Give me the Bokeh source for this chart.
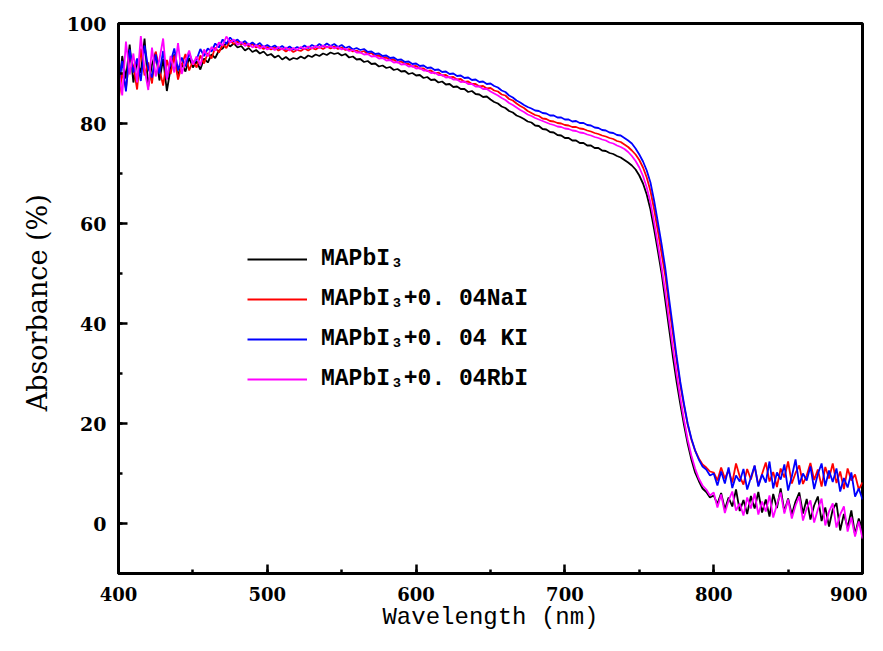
import numpy as np
from bokeh.plotting import figure
from bokeh.models import Range1d, SingleIntervalTicker, Legend, LegendItem
from bokeh.embed import file_html
from bokeh.resources import INLINE

# Wavelength sampling (nm)
wavelength = np.arange(400.0, 900.0 + 0.01, 2.5)

series_labels = ["MAPbI\u2083", "MAPbI\u2083+0. 04NaI", "MAPbI\u2083+0. 04 KI", "MAPbI\u2083+0. 04RbI"]
series_colors = ["#000000", "#ff0000", "#0000ff", "#ff00ff"]

# Absorbance (%), 400..900 nm every 2.5 nm
abs_mapbi3 = [
    86.0, 93.5, 89.0, 95.8, 88.2, 92.6, 90.1, 97.0, 87.4, 91.8, 94.2, 88.6, 92.9, 86.5, 91.0, 93.8, 89.5, 92.0, 90.4, 93.1, 91.2,
    92.4, 90.8, 93.0, 92.2, 93.8, 93.1, 94.6, 95.0, 96.2, 95.4, 96.0, 95.2, 95.5, 94.6, 95.1, 94.3, 94.7, 94.0, 94.4, 93.6,
    93.9, 93.2, 93.6, 92.8, 93.3, 92.7, 93.1, 92.9, 93.4, 93.0, 93.6, 93.3, 93.8, 93.5, 94.0, 93.7, 94.2, 93.9, 94.1, 93.6,
    93.9, 93.2, 93.4, 92.8,
    92.9, 92.3, 92.5, 91.9, 92.0, 91.4, 91.6, 91.1, 91.3, 90.7, 90.9, 90.4, 90.5, 89.9, 90.1, 89.6, 89.7, 89.1, 89.3, 88.7,
    88.8, 88.2, 88.4, 87.8, 87.9, 87.3, 87.4, 86.9, 86.9, 86.3, 86.5, 85.9, 85.8, 85.3, 85.4, 84.8,
    84.3, 84.0, 83.4, 83.1, 82.5, 82.2, 81.6, 81.3, 80.9, 80.4, 80.2, 79.6, 79.5, 78.9, 78.8, 78.3, 78.2, 77.7, 77.6, 77.1,
    77.1, 76.6, 76.6, 76.1, 76.1, 75.6, 75.6, 75.1, 75.1, 74.6, 74.5, 74.1, 73.9, 73.5, 73.2, 72.7,
    72.2, 71.6, 70.8, 69.6, 68.0, 65.8, 62.8, 58.8, 54.5, 50.0, 44.5, 39.0, 33.5, 28.5, 24.0, 19.8, 16.0, 12.8, 10.2, 8.5,
    7.0, 6.3, 5.2, 5.6,
    3.9, 6.1, 2.8, 5.2, 3.4, 6.8, 2.5, 4.7, 1.9, 5.5, 3.0, 6.3, 2.2, 4.8, 1.4, 5.9, 3.1, 7.0, 2.4, 5.0,
    1.8, 4.4, 6.2, 2.0, 4.9, 0.8, 3.6, 5.4, 0.5, 3.2, -0.6, 2.8, 4.1, -1.4, 1.9, -0.8, 2.6, -2.2, 1.0, -1.2,
]

abs_nai = [
    84.5, 90.2, 87.0, 93.4, 91.5, 86.8, 95.0, 89.6, 92.2, 88.0, 94.4, 90.8, 87.6, 92.7, 89.9, 93.6, 88.8, 91.7, 93.9, 90.6, 92.5,
    91.2, 93.6, 92.0, 94.1, 93.0, 95.2, 94.2, 95.8, 95.1, 96.6, 95.9, 96.4, 95.8, 96.1, 95.4, 95.9, 95.2, 95.6, 94.9, 95.3,
    94.8, 95.2, 94.6, 95.0, 94.4, 94.9, 94.3, 94.7, 94.5, 95.0, 94.6, 95.1, 94.8, 95.3, 94.9, 95.4, 95.0, 95.4, 94.9, 95.2,
    94.7, 94.9, 94.4, 94.6,
    94.2, 94.5, 93.9, 94.1, 93.5, 93.6, 93.1, 93.2, 92.7, 92.8, 92.2, 92.4, 91.9, 91.9, 91.4, 91.5, 91.0, 91.0, 90.5, 90.6,
    90.0, 90.2, 89.6, 89.7, 89.2, 89.3, 88.8, 88.9, 88.3, 88.4, 87.9, 87.9, 87.4, 87.5, 87.0, 87.1,
    86.6, 86.4, 85.8, 85.6, 84.9, 84.6, 84.0, 83.5, 83.1, 82.5, 82.1, 81.7, 81.5, 81.0, 80.9, 80.5, 80.4, 80.1, 80.0, 79.7,
    79.6, 79.3, 79.3, 79.0, 78.9, 78.6, 78.4, 78.1, 77.9, 77.6, 77.4, 77.1, 76.9, 76.5, 76.3, 75.8,
    75.3, 74.6, 73.8, 72.7, 71.2, 69.2, 66.5, 62.8, 58.5, 54.0, 49.5, 43.5, 38.2, 32.8, 27.8, 23.6, 19.8, 16.8, 14.6, 13.0,
    11.8, 11.2, 10.4, 10.2,
    8.6, 11.2, 9.0, 10.6, 8.2, 12.0, 9.4, 7.8, 10.9, 8.8, 11.5, 7.6, 9.9, 12.2, 8.4, 10.3, 7.3, 11.0, 9.2, 12.4,
    8.0, 10.1, 11.6, 7.9, 9.6, 12.1, 8.7, 10.8, 7.4, 11.3, 9.0, 12.0, 8.1, 10.4, 6.9, 11.0, 8.6, 9.8, 6.8, 8.2,
]

abs_ki = [
    88.0, 92.5, 86.4, 94.8, 90.2, 93.0, 88.5, 95.6, 91.0, 89.2, 93.8, 90.0, 94.5, 88.9, 92.3, 95.0, 90.6, 93.2, 91.4, 94.1, 92.0,
    92.8, 94.9, 93.5, 95.0, 94.4, 96.0, 95.2, 96.8, 95.9, 97.2, 96.4, 96.8, 96.0, 96.5, 95.7, 96.2, 95.6, 96.1, 95.3, 95.7,
    95.2, 95.6, 95.0, 95.5, 94.9, 95.4, 94.8, 95.3, 95.0, 95.6, 95.1, 95.7, 95.3, 95.9, 95.4, 96.0, 95.5, 95.9, 95.3, 95.7,
    95.1, 95.4, 94.8, 95.1,
    94.7, 94.9, 94.3, 94.4, 93.9, 94.0, 93.5, 93.6, 93.1, 93.2, 92.7, 92.8, 92.3, 92.4, 91.9, 92.0, 91.5, 91.6, 91.1, 91.2,
    90.7, 90.8, 90.3, 90.4, 89.9, 90.0, 89.5, 89.6, 89.1, 89.2, 88.7, 88.8, 88.3, 88.4, 87.9, 88.0,
    87.5, 87.2, 86.6, 86.3, 85.6, 85.2, 84.6, 84.2, 83.7, 83.3, 83.0, 82.6, 82.5, 82.1, 82.0, 81.6, 81.6, 81.2, 81.2, 80.8,
    80.8, 80.4, 80.5, 80.1, 80.1, 79.7, 79.6, 79.2, 79.1, 78.7, 78.6, 78.2, 78.1, 77.7, 77.6, 77.1,
    76.6, 76.0, 75.0, 73.8, 72.4, 70.6, 68.2, 64.5, 60.2, 55.8, 51.0, 45.0, 39.4, 33.6, 28.4, 24.0, 20.0, 17.0, 14.6, 12.8,
    11.4, 10.8, 9.6, 10.0,
    7.6, 10.4, 8.0, 11.2, 7.1, 9.6, 8.4, 10.9, 6.8, 9.2, 11.6, 7.4, 9.8, 8.2, 12.4, 7.0, 10.2, 8.8, 11.8, 6.6,
    9.4, 12.8, 7.8, 10.0, 8.6, 11.4, 6.9, 9.9, 12.0, 7.5, 10.6, 8.3, 11.0, 6.4, 9.1, 7.2, 10.2, 5.4, 7.0, 4.8,
]

abs_rbi = [
    91.0, 85.6, 96.4, 89.8, 94.0, 88.2, 97.5, 90.9, 86.7, 95.2, 89.4, 92.8, 97.0, 88.8, 93.5, 90.2, 96.1, 89.9, 92.6, 94.6, 91.8,
    93.4, 91.6, 94.8, 93.4, 95.3, 94.6, 96.2, 95.6, 97.4, 96.2, 96.8, 95.7, 96.3, 95.5, 96.0, 95.2, 95.7, 95.0, 95.5, 94.8,
    95.2, 94.7, 95.3, 94.8, 95.2, 94.6, 95.1, 94.7, 95.3, 94.9, 95.4, 95.0, 95.5, 95.1, 95.6, 95.2, 95.5, 95.0, 95.3, 94.8,
    95.0, 94.5, 94.7, 94.2,
    94.2, 93.8, 93.9, 93.4, 93.5, 93.0, 93.1, 92.6, 92.7, 92.2, 92.3, 91.8, 91.9, 91.4, 91.5, 91.0, 91.1, 90.6, 90.6, 90.1,
    90.2, 89.7, 89.7, 89.2, 89.3, 88.8, 88.8, 88.3, 88.4, 87.9, 87.9, 87.4, 87.4, 86.9, 86.9, 86.4,
    86.0, 85.6, 85.1, 84.7, 84.1, 83.7, 83.2, 82.7, 82.3, 81.8, 81.5, 81.1, 80.8, 80.5, 80.2, 79.9, 79.7, 79.4, 79.3, 79.0,
    78.9, 78.6, 78.5, 78.2, 78.1, 77.8, 77.6, 77.3, 77.1, 76.8, 76.6, 76.2, 76.0, 75.6, 75.3, 74.9,
    74.3, 73.5, 72.5, 71.2, 69.5, 67.2, 64.2, 60.2, 55.8, 51.2, 46.2, 40.6, 35.2, 30.0, 25.2, 20.8, 16.8, 13.6, 11.0, 9.0,
    7.6, 6.8, 5.6, 6.2,
    3.2, 5.8, 2.1, 4.6, 6.4, 2.6, 4.0, 1.6, 5.2, 3.0, 6.0, 1.8, 4.4, 2.4, 5.6, 1.2, 3.8, 6.2, 2.0, 4.8,
    1.0, 3.6, 5.4, 0.6, 3.0, 4.6, 0.2, 2.8, 5.0, -0.4, 2.4, 4.0, -0.8, 1.8, 3.4, -1.6, 1.2, -2.6, 0.4, -3.0,
]

x_ticks_interval = 100
y_ticks_interval = 20

p = figure(width=867, height=635, output_backend="svg", toolbar_location=None,
           x_range=Range1d(400, 900), y_range=Range1d(-10, 100),
           min_border_left=118, min_border_right=5, min_border_top=23, min_border_bottom=62)
p.background_fill_color = "white"
p.border_fill_color = "white"
p.grid.visible = False
p.outline_line_color = "black"
p.outline_line_width = 3

renderers = []
for ys, c in zip([abs_mapbi3, abs_nai, abs_ki, abs_rbi], series_colors):
    r = p.line(wavelength, ys, line_color=c, line_width=1.8)
    renderers.append(r)

p.xaxis.ticker = SingleIntervalTicker(interval=x_ticks_interval, num_minor_ticks=2)
p.yaxis.ticker = SingleIntervalTicker(interval=y_ticks_interval, num_minor_ticks=2)

for ax in (p.xaxis[0], p.yaxis[0]):
    ax.axis_line_width = 3
    ax.axis_line_color = "black"
    ax.major_tick_line_width = 2.5
    ax.minor_tick_line_width = 2.5
    ax.major_tick_in = 9
    ax.major_tick_out = 0
    ax.minor_tick_in = 4
    ax.minor_tick_out = 0
    ax.major_label_text_font = "DejaVu Serif"
    ax.major_label_text_font_style = "bold"
    ax.major_label_text_color = "black"
    ax.axis_label_text_color = "black"
    ax.axis_label_text_font_style = "normal"

p.xaxis.major_label_text_font_size = "18px"
p.yaxis.major_label_text_font_size = "19px"
p.xaxis.major_label_standoff = 13
p.yaxis.major_label_standoff = 12

p.xaxis.axis_label = "Wavelength (nm)"
p.xaxis.axis_label_text_font = "Liberation Mono"
p.xaxis.axis_label_text_font_size = "24px"
p.xaxis.axis_label_standoff = 0

p.yaxis.axis_label = "Absorbance  (%)"
p.yaxis.axis_label_text_font = "DejaVu Serif"
p.yaxis.axis_label_text_font_size = "27px"
p.yaxis.axis_label_standoff = 11

legend = Legend(items=[LegendItem(label=l, renderers=[r]) for l, r in zip(series_labels, renderers)],
                location=(129, 181), padding=0, margin=0, spacing=14,
                glyph_width=60, glyph_height=20, label_height=20, label_standoff=14,
                label_text_font="Liberation Mono", label_text_font_size="23px",
                label_text_font_style="bold", label_text_color="black",
                border_line_alpha=0, background_fill_alpha=0)
p.add_layout(legend)

open("out.html", "w").write(file_html(p, INLINE))
